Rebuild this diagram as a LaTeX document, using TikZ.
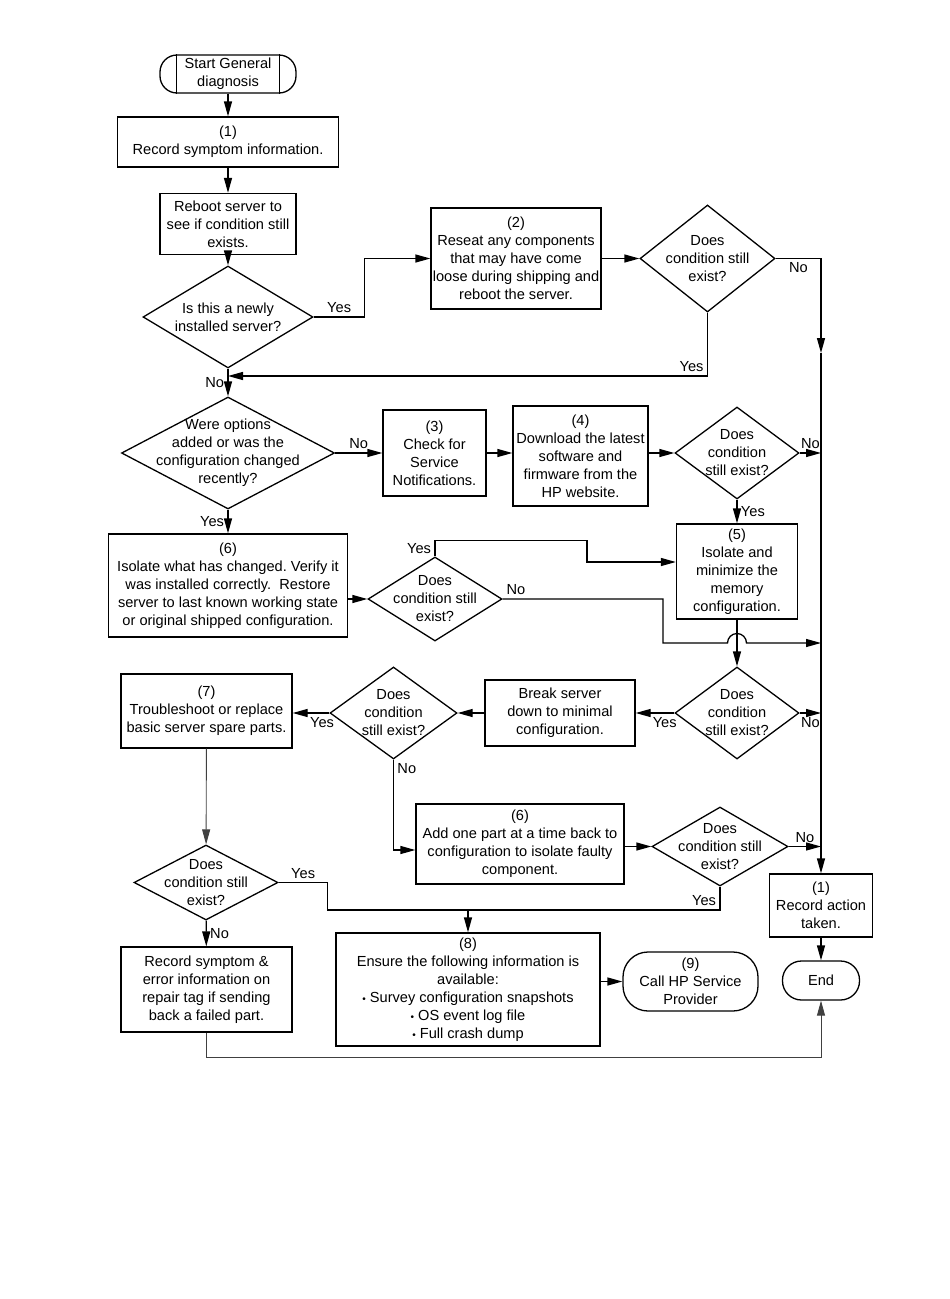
\documentclass[tikz,border=0pt]{standalone}
\usepackage{fontspec}
\setmainfont{Liberation Sans}
\usetikzlibrary{shapes.geometric,arrows.meta}

\begin{document}
\begin{tikzpicture}[x=1pt,y=-1pt,line width=1.3pt,
  font=\fontsize{14.6}{18}\selectfont\frenchspacing,
  >={Triangle[length=15pt,width=8pt]},
  box/.style 2 args={draw,align=center,inner sep=0pt,minimum width=#1,minimum height=#2},
  term/.style n args={3}{draw,align=center,inner sep=0pt,rounded corners=#3,minimum width=#1,minimum height=#2},
  dia/.style 2 args={draw,diamond,inner sep=0pt,minimum width=#1,minimum height=#2},
  dtext/.style={align=center,inner sep=0pt},
  thin line/.style={line width=.9pt,black!75}]
  \useasboundingbox (0,0) rectangle (950,1299);
  % nodes
  \node[term={136}{38}{17}] (start) at (228,74) {Start General\\diagnosis};
  \node[box={221}{50}] (rec) at (228,142) {(1)\\Record symptom information.};
  \node[box={136}{61}] (reboot) at (228,224) {Reboot server to\\see if condition still\\exists.};
  \node[dia={170}{102},label={[dtext]center:Is this a newly\\installed server?}] (qnew) at (228,317) {};
  \node[box={170}{101}] (reseat) at (516,258.5) {(2)\\Reseat any components\\that may have come\\loose during shipping and\\reboot the server.};
  \node[dia={135}{107},label={[dtext]center:Does\\condition still\\exist?}] (qa) at (707.5,258.5) {};
  \node[dia={213}{112},label={[dtext]center:Were options\\added or was the\\configuration changed\\recently?}] (qopt) at (228,453) {};
  \node[box={103}{86}] (svc) at (434.5,453) {(3)\\Check for\\Service\\Notifications.};
  \node[box={135}{100}] (dl) at (580.5,456) {(4)\\Download the latest\\software and\\firmware from the\\HP website.};
  \node[dia={124}{92},label={[dtext]center:Does\\condition\\still exist?}] (qb) at (737,453) {};
  \node[box={121}{95}] (mem) at (737,571.5) {(5)\\Isolate and\\minimize the\\memory\\configuration.};
  \node[box={239}{103}] (iso) at (228,585.5) {(6)\\Isolate what has changed. Verify it\\was installed correctly.\ \ Restore\\server to last known working state\\or original shipped configuration.};
  \node[dia={134}{84},label={[dtext]center:Does\\condition still\\exist?}] (qc) at (435,599) {};
  \node[dia={124}{92},label={[dtext]center:Does\\condition\\still exist?}] (qd) at (737,713) {};
  \node[box={150}{66}] (brk) at (560,713) {Break server\\down to minimal\\configuration.};
  \node[dia={127}{92},label={[dtext]center:Does\\condition\\still exist?}] (qe) at (393.5,713) {};
  \node[box={171}{74}] (trb) at (206.5,711) {(7)\\Troubleshoot or replace\\basic server spare parts.};
  \node[box={208}{80}] (add) at (520,844) {(6)\\Add one part at a time back to\\configuration to isolate faulty\\component.};
  \node[dia={136}{79},label={[dtext]center:Does\\condition still\\exist?}] (qf) at (720,846.5) {};
  \node[dia={144}{75},label={[dtext]center:Does\\condition still\\exist?}] (qg) at (206,882.5) {};
  \node[box={171}{85}] (tag) at (206.5,989.5) {Record symptom \&\\error information on\\repair tag if sending\\back a failed part.};
  \node[box={264}{113}] (info) at (468,989.5) {(8)\\Ensure the following information is\\available:\\{\fontsize{10}{10}\selectfont•} Survey configuration snapshots\\{\fontsize{10}{10}\selectfont•} OS event log file\\{\fontsize{10}{10}\selectfont•} Full crash dump};
  \node[term={135}{59}{25}] (call) at (690.5,981.5) {(9)\\Call HP Service\\Provider};
  \node[box={103}{63}] (act) at (821,905.5) {(1)\\Record action\\taken.};
  \node[term={77}{39}{19}] (stop) at (821,980.5) {End};
  \draw ([xshift=17pt]start.north west) -- ([xshift=17pt]start.south west)
        ([xshift=-17pt]start.north east) -- ([xshift=-17pt]start.south east);
  \coordinate (rail) at (821,353);
  \coordinate (j1) at (228,376);
  \coordinate (j2) at (468,910);
  % connectors
  \path[->]
    (start) edge (rec)
    (rec) edge (reboot)
    (reboot) edge (qnew)
    (qnew) edge node[left] {No} (qopt)
    (reseat) edge (qa)
    (qopt) edge node[above] {No} (svc)
    (svc.east) edge (svc.east -| dl.west)
    (dl.east |- qb.west) edge (qb.west)
    (qb.east) edge node[above] {No} (qb.east -| act)
    (qb) edge node[right] {Yes} (mem)
    (mem) edge (qd)
    (qd.east) edge node[below] {No} (qd.east -| act)
    (qd.west) edge node[below,pos=.25] {Yes} (brk.east)
    (brk) edge (qe)
    (qe.west) edge node[below,pos=.2] {Yes} (qe.west -| trb.east)
    (qopt) edge node[left] {Yes} (iso)
    (iso.east |- qc.west) edge (qc.west)
    (add.east |- qf.west) edge (qf.west)
    (qf.east) edge node[above] {No} (qf.east -| act)
    (qg) edge node[right] {No} (tag)
    (info.east |- call.west) edge (call.west)
    (rail) edge (act)
    (act) edge (stop)
    (j2) edge (info);
  \draw[->] (qnew.east) -- node[above] {Yes} ++(51,0) |- (reseat.west);
  \draw[->] (qa.east) -| node[below,pos=.25] {No} (rail);
  \draw[->] (qa.south) |- node[above left] {Yes} (j1);
  \draw[->] (qc.north) -- node[left] {Yes} ++(0,-16) -| (587,562) -- ([yshift=9.5pt]mem.west);
  \draw[->] (qc.east) node[above right] {No} -| (663,643) -- (727.5,643)
    arc[start angle=180,end angle=0,radius=9.5pt] -- (821,643);
  \draw[->] (qe.south) node[below right] {No} |- ([yshift=-6pt]add.west);
  \draw (qg.east) -- node[above] {Yes} ++(49,0) |- (j2);
  \draw (qf.south) |- node[above left] {Yes} (j2);
  \draw[thin line,->] (trb) -- (qg);
  \draw[thin line,->] (tag.south) -- ++(0,25) -| (stop.south);
\end{tikzpicture}
\end{document}
